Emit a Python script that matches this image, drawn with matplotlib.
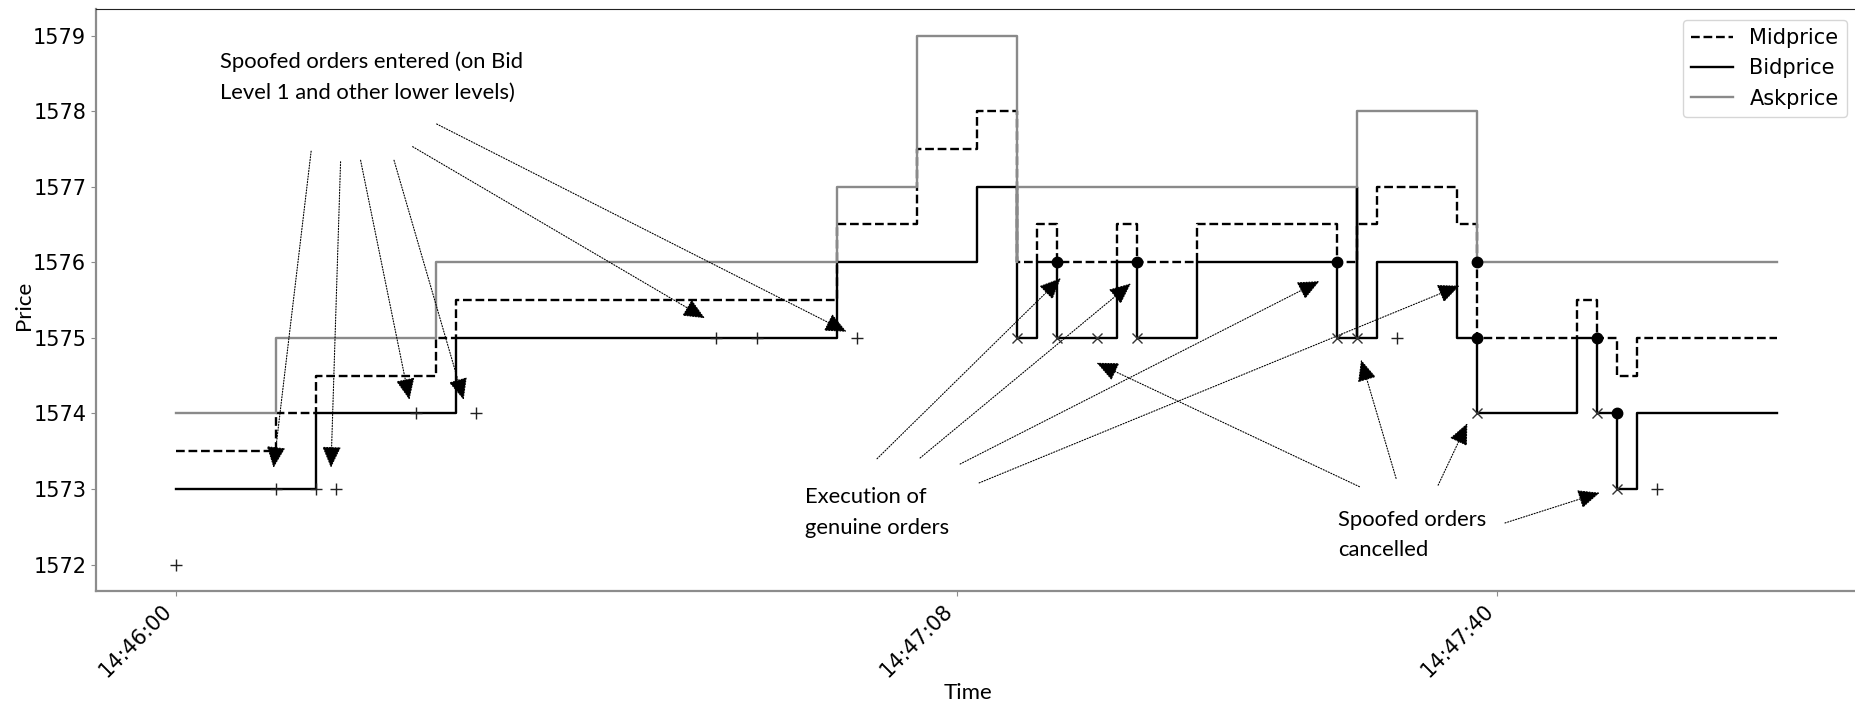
import matplotlib
matplotlib.use("Agg")
import matplotlib.pyplot as plt

# Best bid / best ask / mid per order-book event (step changes, post)
mid_idx = [0, 5, 7, 13, 14, 33, 37, 40, 42, 43, 44, 47, 48, 51, 58, 59, 60,
           64, 65, 70, 71, 72, 73, 80]
mid_price = [1573.5, 1574, 1574.5, 1575, 1575.5, 1576.5, 1577.5, 1578, 1576,
             1576.5, 1576, 1576.5, 1576, 1576.5, 1576, 1576.5, 1577, 1576.5,
             1575, 1575.5, 1575, 1574.5, 1575, 1575]

bid_idx = [0, 7, 14, 33, 40, 42, 43, 44, 47, 48, 51, 58, 59, 59, 60, 64, 65,
           70, 71, 72, 73, 80]
bid_price = [1573, 1574, 1575, 1576, 1577, 1575, 1576, 1575, 1576, 1575, 1576,
             1575, 1577, 1575, 1576, 1575, 1574, 1575, 1574, 1573, 1574, 1574]

ask_idx = [0, 5, 13, 33, 37, 42, 42, 59, 65, 80]
ask_price = [1574, 1575, 1576, 1577, 1579, 1576, 1577, 1578, 1576, 1576]

# order events
entered_idx = [0, 5, 7, 8, 12, 15, 27, 29, 34, 61, 74]
entered_price = [1572, 1573, 1573, 1573, 1574, 1574, 1575, 1575, 1575, 1575, 1573]

cancelled_idx = [42, 44, 46, 48, 58, 59, 65, 71, 72]
cancelled_price = [1575, 1575, 1575, 1575, 1575, 1575, 1574, 1574, 1573]

executed_idx = [44, 48, 58, 65, 65, 71, 72]
executed_price = [1576, 1576, 1576, 1576, 1575, 1575, 1574]

tick_idx = [0, 39, 66]
tick_labels = ["14:46:00", "14:47:08", "14:47:40"]

# callouts: text, anchor, then (tail, tip) pairs for each pointer
notes = [
    ("Spoofed orders entered (on Bid\nLevel 1 and other lower levels)", (2.2, 1578.45),
     [((6.75, 1577.47), (4.87, 1573.28)),
      ((8.22, 1577.33), (7.74, 1573.28)),
      ((9.22, 1577.35), (11.66, 1574.18)),
      ((10.89, 1577.35), (14.37, 1574.18)),
      ((11.82, 1577.53), (26.42, 1575.26)),
      ((13.02, 1577.83), (33.5, 1575.08))]),
    ("Execution of\ngenuine orders", (31.4, 1572.69),
     [((35.02, 1573.40), (44.2, 1575.79)),
      ((37.17, 1573.41), (47.7, 1575.72)),
      ((39.17, 1573.33), (57.12, 1575.75)),
      ((40.12, 1573.08), (64.12, 1575.69))]),
    ("Spoofed orders\ncancelled", (58.05, 1572.39),
     [((59.12, 1573.03), (45.99, 1574.67)),
      ((60.95, 1573.14), (59.2, 1574.71)),
      ((63.05, 1573.05), (64.51, 1573.87)),
      ((66.39, 1572.55), (71.12, 1572.95))]),
]

NOTE_FONT = "Lato"
ASK_GREY = "#8a8a8a"
SPINE_GREY = "#8c8c8c"

fig = plt.figure(figsize=(18.56, 7.07), dpi=100)
ax = fig.add_axes([0.0517, 0.1641, 0.9491, 0.823])

ax.step(mid_idx, mid_price, where="post", color="black", ls="--", lw=1.7,
        label="Midprice")
ax.step(bid_idx, bid_price, where="post", color="black", lw=1.7,
        label="Bidprice")
ax.step(ask_idx, ask_price, where="post", color=ASK_GREY, lw=1.7,
        label="Askprice")

ax.plot(entered_idx, entered_price, ls="none", marker="+", ms=9, mew=1.0,
        color="#222222", zorder=4)
ax.plot(cancelled_idx, cancelled_price, ls="none", marker="x", ms=7, mew=1.0,
        color="#333333", zorder=4)
ax.plot(executed_idx, executed_price, ls="none", marker="o", ms=7.5,
        color="black", zorder=5)

for text, anchor, pointers in notes:
    ax.text(anchor[0], anchor[1], text, family=NOTE_FONT, fontsize=15.8,
            ha="left", va="center", linespacing=1.65)
    for tail, tip in pointers:
        ax.annotate("", xy=tip, xytext=tail,
                    arrowprops=dict(arrowstyle="-|>,head_length=1.35,head_width=0.6",
                                    color="black", lw=0.8, ls=(0, (1, 1.5)),
                                    shrinkA=0, shrinkB=0))

ax.set_yticks(range(1572, 1580))
ax.set_xticks(tick_idx, tick_labels, rotation=45, ha="right")
ax.tick_params(labelsize=15, color=SPINE_GREY, length=3.5)
ax.set_xlabel("Time", family=NOTE_FONT, fontsize=16)
ax.set_ylabel("Price", family=NOTE_FONT, fontsize=16)
ax.xaxis.set_label_coords(0.495, -0.158)
ax.yaxis.set_label_coords(-0.035, 0.4915)

for side in ("left", "bottom"):
    ax.spines[side].set_color(SPINE_GREY)
    ax.spines[side].set_linewidth(1.6)
for side in ("top", "right"):
    ax.spines[side].set_color("#222222")

ax.legend(loc="upper right", fontsize=15)

fig.savefig("out.png", dpi=100)
